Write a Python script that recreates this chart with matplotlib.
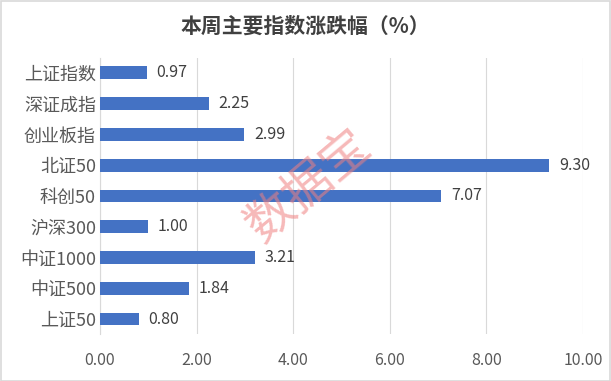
import matplotlib.pyplot as plt
import numpy as np

plt.rcParams['font.family'] = ['Noto Sans CJK SC', 'DejaVu Sans']

cats = ["上证指数", "深证成指", "创业板指", "北证50", "科创50", "沪深300", "中证1000", "中证500", "上证50"]
vals = [0.97, 2.25, 2.99, 9.30, 7.07, 1.00, 3.21, 1.84, 0.80]
xticks = [0, 2, 4, 6, 8, 10]

fig = plt.figure(figsize=(6.11, 3.81), dpi=100)
ax = fig.add_axes([0.1637, 0.1223, 0.954 - 0.1637, 0.849 - 0.1223])

y = np.arange(len(cats))
ax.barh(y, vals, height=0.42, color='#4472C4', zorder=3)
for yi, v in zip(y, vals):
    ax.text(v + 0.2, yi, f"{v:.2f}", va='center', ha='left', fontsize=11.5, color='#404040')

ax.set_yticks(y)
ax.set_yticklabels(cats, fontsize=13, color='#595959')
ax.set_ylim(len(cats) - 0.5, -0.5)
ax.set_xlim(0, 10)
ax.set_xticks(xticks)
ax.set_xticklabels([f"{t:.2f}" for t in xticks], fontsize=11.5, color='#595959')
ax.tick_params(length=0)
ax.tick_params(axis='x', pad=13)
ax.tick_params(axis='y', pad=3)
ax.grid(axis='x', color='#D9D9D9', linewidth=0.8, zorder=0)
for s in ['top', 'right', 'bottom']:
    ax.spines[s].set_visible(False)
ax.spines['left'].set_color('#D9D9D9')

fig.text(0.5, 0.93, "本周主要指数涨跌幅（%）", ha='center', va='center', fontsize=15,
         fontweight='bold', color='#404040')

# watermark
fig.text(0.505, 0.51, "数据宝", ha='center', va='center', fontsize=35, rotation=40,
         color='#F08080', alpha=0.55, zorder=10)

# frame
fig.patches.append(plt.Rectangle((0.001, 0.001), 0.997, 0.997, transform=fig.transFigure,
                                 fill=False, edgecolor='#D9D9D9', linewidth=1.2))

fig.savefig('out.png', dpi=100)
